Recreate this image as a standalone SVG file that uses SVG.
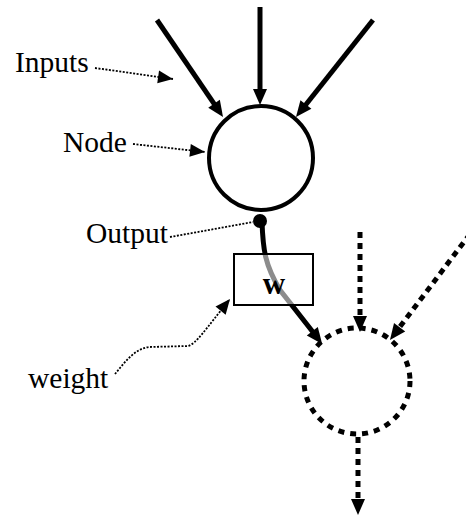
<svg xmlns="http://www.w3.org/2000/svg" width="466" height="518" viewBox="0 0 466 518">
<style>
.lbl{font-family:"Liberation Serif","Times New Roman",serif;font-size:29.5px;fill:#000}
.solid{stroke:#000;stroke-width:5;fill:none}
.dots{stroke:#000;stroke-width:5;fill:none;stroke-dasharray:6 5}
.lead{stroke:#000;stroke-width:1.8;fill:none;stroke-dasharray:2 1.5}
</style>
<defs>
<marker id="big" markerUnits="userSpaceOnUse" markerWidth="16" markerHeight="14" refX="6" refY="7" orient="auto" overflow="visible"><path d="M0,0 L16,7 L0,14 z" fill="#000"/></marker>
<marker id="small" markerUnits="userSpaceOnUse" markerWidth="15" markerHeight="13" refX="15" refY="6.5" orient="auto" overflow="visible"><path d="M0,0 L15,6.5 L0,13 z" fill="#000"/></marker>
</defs>
<rect width="466" height="518" fill="#fff"/>
<g id="connectors">
<line class="solid" x1="157" y1="20" x2="217.4" y2="108.7" marker-end="url(#big)"/>
<line class="solid" x1="260" y1="7" x2="260" y2="95" marker-end="url(#big)"/>
<line class="solid" x1="373" y1="20" x2="302.2" y2="109.2" marker-end="url(#big)"/>
<path class="solid" stroke-width="4" d="M262,222 C263,250 265,265 280,290 L316,336" marker-end="url(#big)"/>
<line class="dots" x1="360" y1="232" x2="360" y2="322" marker-end="url(#big)"/>
<line class="dots" x1="470" y1="234" x2="396" y2="332" marker-end="url(#big)"/>
<line class="dots" x1="358" y1="437" x2="358" y2="505" marker-end="url(#big)"/>
<line class="lead" x1="95" y1="68" x2="173" y2="79" marker-end="url(#small)"/>
<line class="lead" x1="133" y1="144" x2="205" y2="152" marker-end="url(#small)"/>
<line class="lead" x1="170" y1="237" x2="253" y2="222"/>
<path class="lead" d="M115,374 C125,362 135,348 150,347 L188,346 C196,344 205,330 230,299" marker-end="url(#small)"/>
</g>
<g id="node">
<circle cx="261" cy="158" r="52" fill="none" stroke="#000" stroke-width="4"/>
</g>
<g id="output">
<circle cx="260" cy="221" r="7" fill="#000"/>
</g>
<g id="weight-box">
<rect x="234" y="254" width="79" height="51" fill="#fff" fill-opacity="0.55" stroke="#000" stroke-width="2"/>
<text x="274" y="294" text-anchor="middle" font-family="Liberation Serif, serif" font-weight="bold" font-size="31">w</text>
</g>
<g id="next-node">
<circle cx="357" cy="381" r="53" fill="none" stroke="#000" stroke-width="5" stroke-dasharray="6 6"/>
</g>
<g id="labels">
<text class="lbl" x="15" y="72">Inputs</text>
<text class="lbl" x="63" y="152">Node</text>
<text class="lbl" x="86" y="243">Output</text>
<text class="lbl" x="28" y="388">weight</text>
</g>
</svg>
